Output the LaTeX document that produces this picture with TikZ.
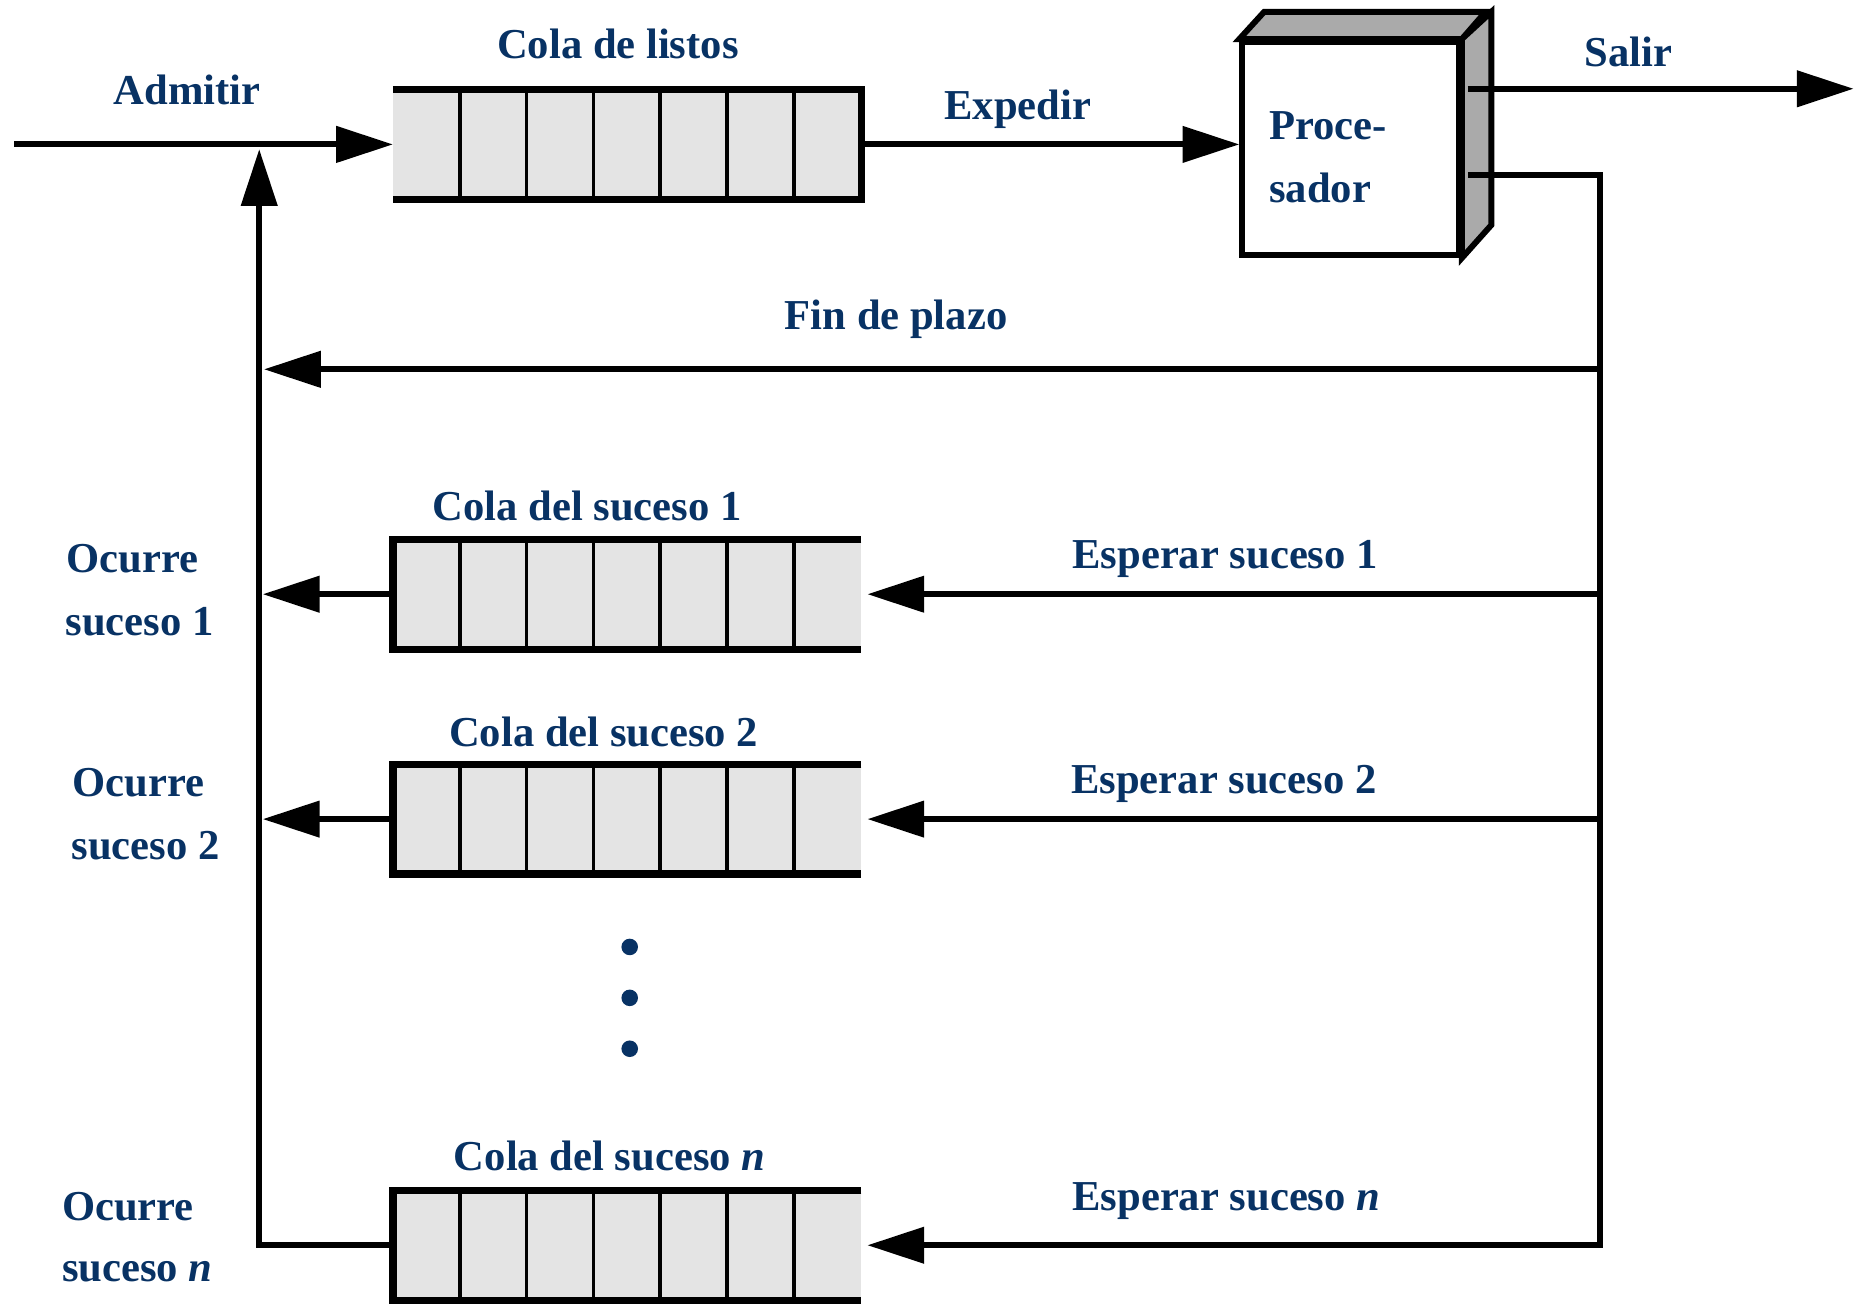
\documentclass[tikz,border=0pt]{standalone}
\usepackage{fontspec}
\setmainfont{Liberation Serif}
\usetikzlibrary{arrows.meta}
\definecolor{navy}{RGB}{8,50,100}
\definecolor{cellgray}{RGB}{228,228,228}
\definecolor{facegray}{RGB}{170,170,170}
\newcommand\qcells[1]{%
  \foreach \k in {1,...,6}
    \draw[qdiv] ([xshift={\k*28.214pt}]#1.north west) -- ([xshift={\k*28.214pt}]#1.south west);}
\begin{document}
\begin{tikzpicture}[x=0.5pt,y=-0.5pt,
  lbl/.style={text=navy,font=\fontsize{18}{22}\selectfont\bfseries,inner sep=0pt},
  flow/.style={line width=2.5pt},
  arr/.style={flow,-{Triangle[length=24pt,width=15pt]}},
  qbox/.style={fill=cellgray,draw=none,minimum width=197.5pt,minimum height=46pt,inner sep=0pt,anchor=west},
  qedge/.style={line width=3pt,line join=miter},
  qdiv/.style={line width=1.5pt},
  dotnode/.style={circle,fill=navy,inner sep=0pt,minimum size=7pt}]
\useasboundingbox (0,0) rectangle (1568,1103);

% queues
\node[qbox] (rq) at (332,122) {};
\node[qbox] (q1) at (332,502) {};
\node[qbox] (q2) at (332,692) {};
\node[qbox] (qn) at (332,1052) {};
\qcells{rq}\qcells{q1}\qcells{q2}\qcells{qn}
\draw[qedge] (rq.north west) -- (rq.north east) -- (rq.south east) -- (rq.south west);
\draw[qedge] (q1.north east) -- (q1.north west) -- (q1.south west) -- (q1.south east);
\draw[qedge] (q2.north east) -- (q2.north west) -- (q2.south west) -- (q2.south east);
\draw[qedge] (qn.north east) -- (qn.north west) -- (qn.south west) -- (qn.south east);

% processor
\node[draw,line width=2.5pt,fill=white,minimum width=91.5pt,minimum height=90pt,inner sep=0pt,anchor=north west] (proc) at (1047,33) {};
\draw[line width=2.5pt,fill=facegray,line join=miter] (proc.north west) -- ++(21,-23) -- ++(187,0) -- (proc.north east) -- cycle;
\draw[line width=2.5pt,fill=facegray,line join=miter] (proc.north east) -- ++(25,-23) -- ++(0,180) -- (proc.south east) -- cycle;
\node[lbl,anchor=base west] (tproc1) at (1072,118) {Proce-};
\node[lbl,anchor=base west] (tproc2) at (1072,171) {sador};

% coordinates
\coordinate (inA) at (12,122);
\coordinate (upT) at (219,126);
\coordinate (outA) at (1240,75);
\coordinate (outE) at (1566,75);
\coordinate (outB) at (1240,148);
\coordinate (busN) at (1352,1052);
\coordinate (busF) at (1352,312);
\coordinate (leftF) at (223,312);
\coordinate (bus1) at (1352,502);
\coordinate (bus2) at (1352,692);
\coordinate (left1) at (222,502);
\coordinate (left2) at (222,692);

% connectors
\draw[arr] (inA) -- (rq.west);
\draw[arr] (rq.east) -- (rq.east -| proc.west);
\draw[arr] (outA) -- (outE);
\draw[arr,line join=miter] (outB) -| (busN) -- ([xshift=2.5pt]qn.east);
\draw[arr] (busF) -- (leftF);
\draw[arr] (bus1) -- ([xshift=2.5pt]q1.east);
\draw[arr] (bus2) -- ([xshift=2.5pt]q2.east);
\draw[arr] (q1.west) -- (left1);
\draw[arr] (q2.west) -- (left2);
\draw[arr,line join=miter] (qn.west) -| (upT);

% dots
\node[dotnode] (d1) at (532,800) {};
\node[dotnode] (d2) at (532,843) {};
\node[dotnode] (d3) at (532,886) {};

% labels
\node[lbl,anchor=base] (tadm) at (158,88) {Admitir};
\node[lbl,anchor=base] (trq) at (522,49) {Cola de listos};
\node[lbl,anchor=base] (texp) at (860,101) {Expedir};
\node[lbl,anchor=base] (tsal) at (1376,56) {Salir};
\node[lbl,anchor=base] (tfin) at (757,278) {Fin de plazo};
\node[lbl,anchor=base] (tq1) at (496,440) {Cola del suceso 1};
\node[lbl,anchor=base] (te1) at (1035,480) {Esperar suceso 1};
\node[lbl,anchor=base] (tq2) at (510,631) {Cola del suceso 2};
\node[lbl,anchor=base] (te2) at (1034,670) {Esperar suceso 2};
\node[lbl,anchor=base] (tqn) at (515,989) {Cola del suceso \textit{n}};
\node[lbl,anchor=base] (ten) at (1036,1023) {Esperar suceso \textit{n}};
\node[lbl,anchor=base west] (to1) at (56,484) {Ocurre};
\node[lbl,anchor=base west] (ts1) at (55,537) {suceso 1};
\node[lbl,anchor=base west] (to2) at (61,673) {Ocurre};
\node[lbl,anchor=base west] (ts2) at (60,726) {suceso 2};
\node[lbl,anchor=base west] (ton) at (52,1031) {Ocurre};
\node[lbl,anchor=base west] (tsn) at (52,1083) {suceso \textit{n}};
\end{tikzpicture}
\end{document}
